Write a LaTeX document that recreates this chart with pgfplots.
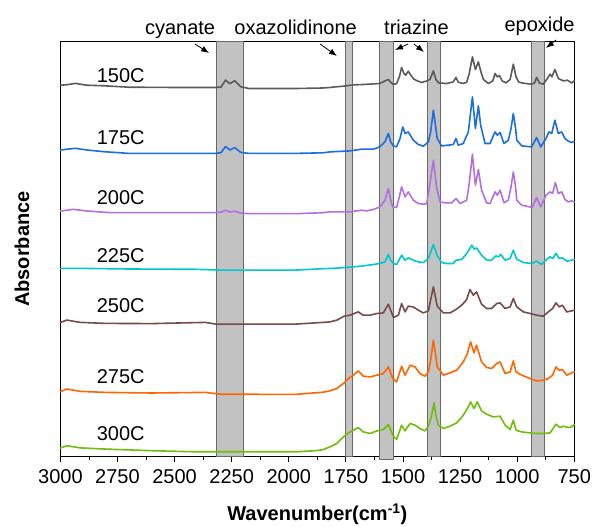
\documentclass[border=0pt]{standalone}
\usepackage{pgfplots}
\pgfplotsset{compat=1.18}
\usepackage{fontspec}
\setmainfont{Liberation Sans}
\usetikzlibrary{arrows.meta}

\definecolor{c150}{RGB}{90,90,90}
\definecolor{c175}{RGB}{25,110,225}
\definecolor{c200}{RGB}{180,110,225}
\definecolor{c225}{RGB}{0,200,205}
\definecolor{c250}{RGB}{120,75,75}
\definecolor{c275}{RGB}{255,102,0}
\definecolor{c300}{RGB}{110,190,10}
\definecolor{bandfill}{RGB}{194,194,194}
\definecolor{bandedge}{RGB}{105,105,105}

\newcommand{\lbl}{\fontsize{20}{24}\selectfont}

\begin{document}
\begin{tikzpicture}
\begin{axis}[
  at={(0,0)}, anchor=south west,
  scale only axis,
  width=513.9pt, height=414.6pt,
  x dir=reverse,
  xmin=750, xmax=3000,
  ymin=0, ymax=414.6,
  xtick={750,1000,...,3000},
  minor x tick num=1,
  xtick pos=left,
  ytick=\empty,
  tick align=outside,
  major tick length=6pt,
  minor tick length=4pt,
  every tick/.style={black, line width=0.8pt},
  axis line style={line width=1pt},
  clip=false,
  /pgf/number format/1000 sep={},
  /pgf/number format/assume math mode=true,
  xticklabel style={font=\lbl, yshift=-4pt},
  every axis plot/.append style={line join=round, line cap=round},
]
% absorption bands
\addplot[fill=bandfill, draw=bandedge, line width=0.8pt] coordinates {(2317,0) (2317,414.6) (2200,414.6) (2200,0)} -- cycle;
\addplot[fill=bandfill, draw=bandedge, line width=0.8pt] coordinates {(1753,0) (1753,414.6) (1722,414.6) (1722,0)} -- cycle;
\addplot[fill=bandfill, draw=bandedge, line width=0.8pt] coordinates {(1602,-3) (1602,414.6) (1542,414.6) (1542,-3)} -- cycle;
\addplot[fill=bandfill, draw=bandedge, line width=0.8pt] coordinates {(1394,0) (1394,414.6) (1335,414.6) (1335,0)} -- cycle;
\addplot[fill=bandfill, draw=bandedge, line width=0.8pt] coordinates {(938,0) (938,414.6) (879,414.6) (879,0)} -- cycle;

% spectra
\addplot[c150, line width=1.6pt] coordinates {
(3000,371.0)(2970,371.5)(2935,372.8)(2885,371.0)(2810,370.4)(2700,369.0)(2500,368.7)(2320,368.7)(2297,369.2)(2277,376.0)(2258,372.5)(2237,375.5)(2210,369.4)(2175,367.7)(1970,367.7)(1850,368.2)
(1820,368.7)(1798,369.3)(1761,370.0)(1717,371.3)(1674,371.7)(1630,372.3)(1601,372.7)(1579,375.3)(1564,376.7)(1554,374.0)(1542,371.7)(1528,372.7)(1516,379.3)(1506,388.7)(1496,382.7)(1488,381.0)(1477,385.0)(1466,381.0)(1452,377.0)(1437,375.3)(1418,373.7)(1396,375.3)(1382,376.7)(1367,385.3)(1356,376.7)(1344,373.3)(1309,372.7)(1280,374.3)(1268,378.7)(1258,374.0)(1236,372.7)(1221,374.0)(1210,382.7)(1196,399.3)(1183,386.7)(1170,394.3)(1160,385.3)(1148,376.7)(1126,372.7)(1107,375.3)(1097,382.7)(1087,379.3)(1078,380.7)(1066,375.3)(1049,373.3)(1031,376.7)(1017,392.0)(1005,379.3)(993,374.0)(973,373.0)(937,372.0)(924,373.3)(915,378.7)(903,373.3)(886,372.0)(871,376.7)(856,382.0)(848,379.3)(835,386.7)(820,377.7)(798,375.3)(780,376.0)(762,373.3)(750,375.3)
};
\addplot[c175, line width=1.6pt] coordinates {
(3000,306.2)(2972,306.9)(2935,307.9)(2884,306.2)(2810,304.5)(2700,302.8)(2320,302.8)(2297,303.5)(2277,309.6)(2258,306.2)(2237,308.6)(2210,303.8)(2175,302.8)(1970,302.8)(1850,303.4)
(1820,304.3)(1732,305.3)(1681,307.0)(1630,307.0)(1601,309.3)(1579,314.3)(1564,322.7)(1554,314.3)(1542,310.3)(1528,309.3)(1513,317.7)(1501,329.3)(1491,322.7)(1477,324.3)(1455,316.0)(1433,311.7)(1411,310.0)(1389,314.3)(1379,324.3)(1367,346.0)(1358,331.0)(1350,317.7)(1331,310.3)(1302,311.0)(1280,311.7)(1268,317.7)(1258,311.0)(1236,312.7)(1214,324.3)(1196,359.3)(1183,327.7)(1170,350.3)(1160,331.0)(1141,312.7)(1119,312.7)(1097,324.3)(1087,321.0)(1075,323.7)(1058,312.7)(1039,316.0)(1027,327.7)(1017,342.7)(1007,327.7)(1002,316.0)(980,310.3)(937,309.3)(915,318.7)(897,309.3)(874,317.7)(861,324.3)(849,322.7)(835,336.0)(820,322.7)(805,324.3)(791,317.7)(776,315.0)(762,313.7)(750,315.0)
};
\addplot[c200, line width=1.6pt] coordinates {
(3000,245.2)(2972,245.9)(2943,246.9)(2884,245.2)(2780,243.5)(2320,243.5)(2297,244.0)(2277,245.9)(2258,244.2)(2237,244.9)(2210,243.2)(2175,242.5)(1970,242.5)(1850,243.5)
(1820,244.3)(1732,244.3)(1681,246.0)(1659,245.3)(1630,246.7)(1601,249.3)(1579,256.0)(1564,267.7)(1554,256.0)(1545,249.3)(1528,248.7)(1516,259.3)(1506,269.3)(1491,259.3)(1477,264.3)(1455,256.0)(1433,252.7)(1411,252.0)(1396,252.7)(1382,272.7)(1367,296.0)(1353,269.3)(1338,254.3)(1316,253.3)(1287,253.3)(1268,257.7)(1250,252.7)(1221,256.0)(1210,272.7)(1196,302.0)(1183,271.0)(1170,286.7)(1156,266.0)(1134,253.3)(1119,252.7)(1097,264.3)(1087,261.0)(1075,266.0)(1058,253.3)(1039,256.0)(1027,269.3)(1017,284.3)(1007,269.3)(1002,256.0)(980,251.0)(959,250.0)(934,248.7)(915,258.7)(897,249.3)(874,261.0)(856,264.3)(845,262.7)(833,273.7)(820,262.7)(805,264.3)(791,256.7)(776,254.3)(762,255.3)(750,254.3)
};
\addplot[c225, line width=1.6pt] coordinates {
(3000,187.8)(2900,187.8)(2700,187.2)(2410,186.9)(2300,186.1)(1970,186.1)(1850,187.5)
(1820,187.7)(1747,188.7)(1674,190.3)(1630,191.7)(1601,192.7)(1579,194.3)(1564,201.7)(1554,196.0)(1542,192.7)(1528,191.7)(1506,201.0)(1491,196.0)(1477,198.3)(1455,196.0)(1433,194.3)(1411,193.7)(1389,197.7)(1367,211.7)(1350,200.3)(1331,193.7)(1309,192.7)(1280,192.7)(1268,196.0)(1243,196.7)(1221,202.7)(1199,211.0)(1188,207.0)(1178,208.3)(1156,201.0)(1134,196.0)(1112,196.0)(1094,200.3)(1083,199.3)(1072,201.7)(1053,196.0)(1031,197.7)(1017,206.0)(1002,197.0)(973,193.7)(937,192.7)(915,195.0)(893,191.7)(871,197.0)(856,199.3)(845,197.7)(830,202.7)(816,197.7)(802,198.3)(783,195.0)(762,196.0)(750,196.7)
};
\addplot[c250, line width=1.6pt] coordinates {
(3000,133.8)(2972,136.1)(2913,133.8)(2800,132.8)(2600,132.6)(2366,133.8)(2320,132.1)(1970,132.1)(1850,133.8)
(1820,134.3)(1790,136.0)(1758,140.0)(1732,141.0)(1696,144.3)(1674,141.0)(1644,141.0)(1615,142.7)(1586,143.3)(1564,152.0)(1542,138.7)(1520,141.0)(1506,152.7)(1491,144.3)(1477,150.0)(1455,149.3)(1433,146.0)(1411,143.3)(1389,145.3)(1367,169.3)(1350,150.0)(1323,143.3)(1294,143.3)(1268,146.7)(1243,151.0)(1221,156.7)(1207,166.7)(1192,161.0)(1178,164.3)(1156,152.0)(1134,147.7)(1112,147.7)(1090,152.7)(1075,153.3)(1053,147.7)(1031,149.3)(1017,157.7)(1002,149.3)(973,144.3)(944,142.7)(915,141.0)(886,140.0)(864,144.3)(845,147.7)(830,153.3)(816,149.3)(802,151.0)(783,144.3)(762,145.3)(750,146.0)
};
\addplot[c275, line width=1.6pt] coordinates {
(3000,64.5)(2972,67.2)(2913,64.8)(2800,63.8)(2600,63.2)(2366,63.8)(2300,62.0)(1970,61.8)(1850,64.0)
(1820,65.3)(1790,67.7)(1761,72.7)(1739,77.7)(1717,81.0)(1696,85.3)(1674,80.0)(1644,79.3)(1615,81.0)(1586,82.7)(1564,89.3)(1545,77.7)(1528,74.3)(1506,90.0)(1491,81.0)(1469,91.0)(1447,89.3)(1426,82.7)(1404,80.0)(1389,84.3)(1379,96.0)(1367,116.0)(1358,102.7)(1350,89.3)(1323,81.0)(1294,83.3)(1265,86.0)(1236,94.3)(1218,102.7)(1204,114.3)(1189,103.3)(1178,111.0)(1156,94.3)(1134,88.7)(1112,87.7)(1090,92.7)(1075,94.3)(1053,82.7)(1031,84.3)(1017,95.3)(1005,84.3)(980,81.0)(944,77.7)(915,75.3)(886,76.0)(864,77.7)(845,81.0)(830,89.3)(816,86.0)(802,86.7)(783,81.0)(762,83.3)(750,84.3)
};
\addplot[c300, line width=1.6pt] coordinates {
(3000,8.1)(2972,10.5)(2913,8.3)(2800,7.1)(2600,5.5)(2410,4.4)(1970,4.4)(1890,5.4)(1850,6.5)
(1820,9.3)(1790,12.7)(1761,19.3)(1739,23.3)(1717,26.0)(1696,28.7)(1674,24.3)(1644,22.7)(1615,25.3)(1586,26.7)(1564,31.7)(1545,21.0)(1528,16.7)(1506,31.0)(1491,25.3)(1469,32.7)(1447,31.0)(1426,27.7)(1404,25.3)(1389,30.0)(1376,39.3)(1364,53.3)(1356,41.0)(1345,31.0)(1323,27.7)(1294,30.0)(1265,33.3)(1236,41.0)(1218,47.7)(1204,54.3)(1189,47.7)(1175,54.3)(1156,45.3)(1134,42.0)(1105,39.3)(1075,40.0)(1053,31.0)(1031,26.7)(1017,36.0)(1005,26.0)(980,24.3)(944,23.3)(915,22.7)(886,22.7)(856,23.3)(830,32.0)(813,28.7)(798,30.0)(776,28.7)(762,29.3)(750,31.7)
};

% curing temperature of each spectrum
\node[anchor=base west, font=\lbl] at (axis cs:2856,374.0) {150C};
\node[anchor=base west, font=\lbl] at (axis cs:2856,311.5) {175C};
\node[anchor=base west, font=\lbl] at (axis cs:2856,251.5) {200C};
\node[anchor=base west, font=\lbl] at (axis cs:2856,194.0) {225C};
\node[anchor=base west, font=\lbl] at (axis cs:2856,144.1) {250C};
\node[anchor=base west, font=\lbl] at (axis cs:2856,72.2) {275C};
\node[anchor=base west, font=\lbl] at (axis cs:2856,15.7) {300C};

% band names
\node[anchor=base, font=\lbl] at (axis cs:2476,421.4) {cyanate};
\node[anchor=base, font=\lbl] at (axis cs:1970,421.4) {oxazolidinone};
\node[anchor=base, font=\lbl] at (axis cs:1441,421.4) {triazine};
\node[anchor=base, font=\lbl] at (axis cs:902,424.2) {epoxide};
\begin{scope}[line width=0.8pt, -{Latex[length=8pt,width=6pt]}]
\draw (axis cs:2411,412.2) -- (axis cs:2349,403.2);
\draw (axis cs:1863,412.2) -- (axis cs:1789,400.2);
\draw (axis cs:1478,412.2) -- (axis cs:1535,406.2);
\draw (axis cs:1452,412.2) -- (axis cs:1408,404.2);
\draw (axis cs:830,416.2) -- (axis cs:874,408.2);
\end{scope}
\end{axis}

% axis titles
\node[anchor=base, font=\lbl\bfseries] at (256.95pt,-64.8pt) {Wavenumber(cm\textsuperscript{-1})};
\node[anchor=base, rotate=90, font=\lbl\bfseries] at (-31.4pt,207pt) {Absorbance};

\pgfresetboundingbox
\path[use as bounding box] (-60.4pt,-70.8pt) rectangle (531.6pt,456.2pt);
\end{tikzpicture}
\end{document}
